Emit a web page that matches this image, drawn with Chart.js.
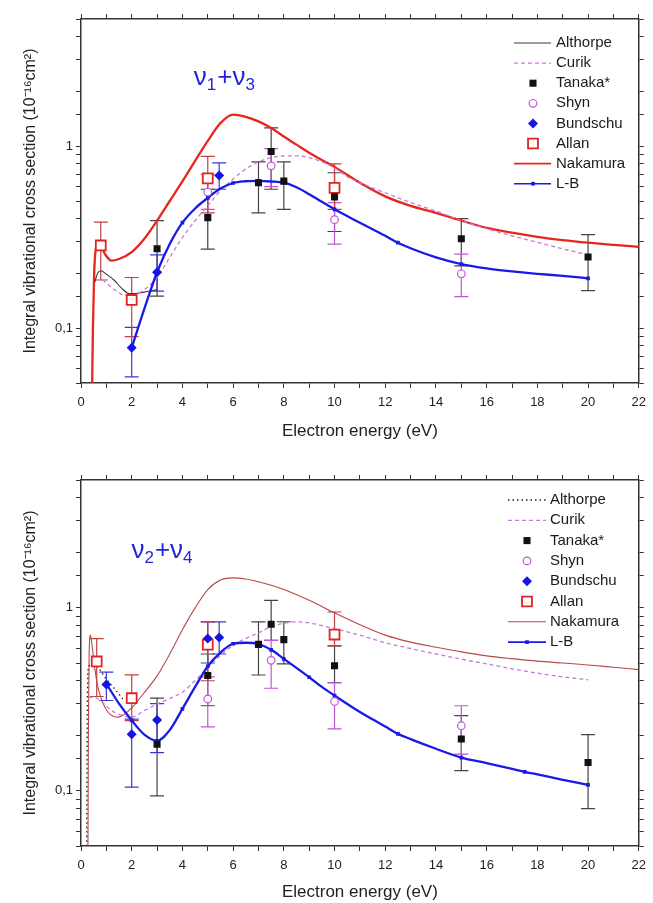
<!DOCTYPE html>
<html>
<head>
<meta charset="utf-8">
<script src="https://cdn.jsdelivr.net/npm/chart.js@4/dist/chart.umd.min.js"></script>
<style>
  html, body { margin: 0; padding: 0; background: #fff; }
  #c1 { position: absolute; left: 0; top: 0; }
  #c2 { position: absolute; left: 0; top: 445px; }
</style>
</head>
<body>
<canvas id="c1" width="653" height="445"></canvas>
<canvas id="c2" width="653" height="458"></canvas>
<script>
// ---- panel 1 : v1+v3  ([energy eV, cross section]) ----
const althorpe1 = [[0.55,0.18],[0.65,0.2],[0.78,0.207],[1.0,0.198],[1.3,0.184],[1.6,0.166],[1.9,0.155],[2.3,0.156],[2.6,0.159],[3.0,0.163]];
const curik1 = [[0.85,0.185],[1.1,0.172],[1.4,0.16],[1.7,0.152],[2,0.151],[2.5,0.163],[3,0.19],[3.5,0.245],[4,0.315],[4.5,0.39],[5,0.47],[5.5,0.57],[6,0.66],[6.5,0.75],[7,0.82],[7.5,0.865],[8,0.885],[8.5,0.885],[9,0.865],[9.5,0.82],[10,0.76],[10.5,0.68],[11,0.63],[11.5,0.59],[12,0.555],[13,0.49],[14,0.44],[15,0.39],[16,0.352],[17,0.322],[18,0.296],[19,0.273],[20,0.253]];
const nakamura1 = [[0.42,0.03],[0.47,0.1],[0.52,0.2],[0.58,0.27],[0.68,0.292],[0.8,0.28],[0.95,0.255],[1.2,0.235],[1.5,0.24],[2,0.262],[2.5,0.31],[3,0.39],[3.5,0.5],[4,0.64],[4.5,0.83],[5,1.07],[5.5,1.34],[6,1.49],[6.5,1.45],[7,1.37],[7.5,1.26],[8,1.13],[8.5,1.02],[9,0.92],[9.5,0.84],[10,0.77],[11,0.63],[12,0.53],[13,0.47],[14,0.43],[15,0.39],[16,0.356],[17,0.335],[18,0.318],[19,0.305],[20,0.295],[21,0.287],[22,0.28]];
const lb1 = [[2,0.078],[2.5,0.128],[3,0.203],[3.5,0.29],[4,0.38],[4.5,0.455],[5,0.52],[5.5,0.585],[6,0.628],[6.5,0.642],[7,0.645],[7.5,0.64],[8,0.63],[8.5,0.595],[9,0.545],[9.5,0.495],[10,0.45],[11,0.38],[12,0.322],[12.5,0.295],[13,0.275],[14,0.245],[15,0.225],[16,0.213],[17,0.205],[18,0.199],[19,0.194],[20,0.188]];
const lbMarks1 = [2,3,4,5,6,7,8,10,12.5,15,20];
// [energy, value, low, high]
const tanaka1 = [[3,0.273,0.15,0.39],[5,0.405,0.272,0.58],[7,0.63,0.43,0.82],[7.5,0.935,0.58,1.26],[8,0.643,0.45,0.82],[10,0.527,0.34,0.715],[15,0.31,0.22,0.4],[20,0.246,0.161,0.327]];
const shyn1 = [[5,0.56,0.45,0.7],[7.5,0.78,0.6,0.97],[10,0.395,0.29,0.49],[15,0.199,0.149,0.255]];
const bundschu1 = [[2,0.078,0.054,0.101],[3,0.203,0.16,0.253],[5.45,0.69,0.58,0.81]];
const allan1 = [[0.78,0.285,0.184,0.383],[2,0.143,0.09,0.19],[5,0.666,0.43,0.88],[10,0.59,0.45,0.8]];

// ---- panel 2 : v2+v4 ----
const althorpe2 = [[0.22,0.03],[0.25,0.3],[0.3,0.48],[0.5,0.49],[0.74,0.46],[0.93,0.42],[1.15,0.385],[1.39,0.353],[1.65,0.318]];
const curik2 = [[0.3,0.325],[0.6,0.322],[0.9,0.3],[1.2,0.275],[1.5,0.262],[2,0.253],[2.5,0.275],[3,0.298],[3.5,0.32],[4,0.346],[4.5,0.4],[5,0.47],[5.5,0.55],[6,0.625],[6.5,0.68],[7,0.73],[7.5,0.79],[8,0.825],[8.5,0.838],[9,0.83],[9.5,0.8],[10,0.77],[11,0.71],[12,0.645],[13,0.6],[14,0.56],[15,0.525],[16,0.495],[17,0.465],[18,0.44],[19,0.42],[20,0.405]];
const nakamura2 = [[0.27,0.03],[0.29,0.2],[0.32,0.55],[0.37,0.71],[0.45,0.6],[0.55,0.46],[0.65,0.38],[0.75,0.335],[0.9,0.295],[1.06,0.27],[1.25,0.257],[1.46,0.253],[1.7,0.262],[2,0.284],[2.5,0.345],[3,0.425],[3.5,0.56],[4,0.76],[4.5,1.0],[5,1.26],[5.5,1.42],[6,1.46],[6.5,1.44],[7,1.39],[7.5,1.33],[8,1.26],[9,1.1],[10,0.94],[11,0.81],[12,0.71],[13,0.65],[14,0.61],[15,0.575],[16,0.547],[17,0.528],[18,0.512],[19,0.5],[20,0.488],[21,0.474],[22,0.46]];
const lb2 = [[1,0.385],[1.5,0.3],[2,0.243],[2.5,0.203],[3,0.188],[3.5,0.215],[4,0.281],[4.5,0.37],[5,0.48],[5.5,0.57],[6,0.637],[6.5,0.645],[7,0.635],[7.5,0.59],[8,0.527],[8.5,0.47],[9,0.418],[9.5,0.37],[10,0.332],[11,0.27],[12,0.225],[12.5,0.205],[13,0.192],[14,0.17],[15,0.152],[16,0.142],[17,0.132],[17.5,0.127],[18,0.123],[19,0.115],[20,0.108]];
const lbMarks2 = [1,2,3,4,5,6,7,7.5,8,9,10,12.5,15,17.5,20];
const tanaka2 = [[3,0.18,0.094,0.321],[5,0.427,0.292,0.56],[7,0.632,0.43,0.838],[7.5,0.814,0.665,1.1],[8,0.671,0.495,0.84],[10,0.483,0.39,0.62],[15,0.192,0.129,0.258],[20,0.143,0.08,0.203]];
const shyn2 = [[5,0.318,0.224,0.42],[7.5,0.517,0.364,0.665],[10,0.308,0.218,0.39],[15,0.227,0.159,0.292]];
const bundschu2 = [[1,0.381,0.312,0.446],[2,0.204,0.105,0.247],[3,0.244,0.162,0.3],[5,0.68,0.5,0.838],[5.45,0.69,0.56,0.838]];
const allan2 = [[0.62,0.51,0.328,0.68],[2,0.321,0.242,0.431],[5,0.63,0.4,0.838],[10,0.715,0.62,0.95]];

const legendOrder = ['Althorpe', 'Curik', 'Tanaka*', 'Shyn', 'Bundschu', 'Allan', 'Nakamura', 'L-B'];
const mode1 = [['ν', 0], ['1', 1], ['+', 0], ['ν', 0], ['3', 1]];
const mode2 = [['ν', 0], ['2', 1], ['+', 0], ['ν', 0], ['4', 1]];
const xTitle = 'Electron energy (eV)';
const yTitle = 'Integral vibrational cross section (10⁻¹⁶cm²)';

const FONT = '"Liberation Sans", Arial, sans-serif';
Chart.defaults.font.family = FONT;

const toPoints = arr => arr.map(p => ({ x: p[0], y: p[1] }));

function lineSet(label, arr, color, width, dash) {
  return {
    label, data: toPoints(arr), showLine: true, pointRadius: 0,
    borderColor: color, borderWidth: width, borderDash: dash || [],
    cubicInterpolationMode: 'monotone', fill: false
  };
}

function markSet(label, arr, style, radius, fill, stroke, bw, errColor) {
  return {
    label, data: toPoints(arr), errors: arr, errorColor: errColor, showLine: false,
    pointStyle: style, pointRadius: radius,
    pointBackgroundColor: fill, pointBorderColor: stroke, pointBorderWidth: bw,
    backgroundColor: fill, borderColor: stroke
  };
}

// vertical error bars with caps, drawn under the markers
const errorBars = {
  id: 'errorBars',
  beforeDatasetsDraw(chart) {
    const { ctx, chartArea, scales: { x, y } } = chart;
    ctx.save();
    ctx.beginPath();
    ctx.rect(chartArea.left, chartArea.top, chartArea.right - chartArea.left, chartArea.bottom - chartArea.top);
    ctx.clip();
    chart.data.datasets.forEach(ds => {
      if (!ds.errors) return;
      ctx.strokeStyle = ds.errorColor;
      ctx.lineWidth = 1.2;
      ds.errors.forEach(e => {
        const px = x.getPixelForValue(e[0]);
        const lo = y.getPixelForValue(e[2]);
        const hi = y.getPixelForValue(e[3]);
        ctx.beginPath();
        ctx.moveTo(px, lo); ctx.lineTo(px, hi);
        ctx.moveTo(px - 7, lo); ctx.lineTo(px + 7, lo);
        ctx.moveTo(px - 7, hi); ctx.lineTo(px + 7, hi);
        ctx.stroke();
      });
    });
    ctx.restore();
  }
};

// legend placed inside the plot, upper right
const insideLegend = {
  id: 'insideLegend',
  afterDatasetsDraw(chart, args, o) {
    const ctx = chart.ctx;
    ctx.save();
    ctx.font = '15px ' + FONT;
    ctx.textBaseline = 'middle';
    legendOrder.forEach((label, i) => {
      const ds = chart.data.datasets.find(d => d.label === label);
      const cy = o.y0 + i * o.step;
      if (ds.showLine) {
        ctx.strokeStyle = ds.borderColor;
        ctx.lineWidth = Math.min(ds.borderWidth, 1.6);
        ctx.setLineDash(ds.borderDash || []);
        ctx.beginPath();
        ctx.moveTo(o.lineStart, cy); ctx.lineTo(o.lineEnd, cy);
        ctx.stroke();
        ctx.setLineDash([]);
      }
      const r = Array.isArray(ds.pointRadius) ? Math.max(...ds.pointRadius) : ds.pointRadius;
      if (r > 0) {
        ctx.fillStyle = ds.pointBackgroundColor || ds.borderColor;
        ctx.strokeStyle = ds.pointBorderColor || ds.borderColor;
        ctx.lineWidth = ds.pointBorderWidth || 0;
        Chart.helpers.drawPoint(ctx, { pointStyle: ds.pointStyle, radius: r, rotation: 0, borderWidth: ds.pointBorderWidth || 0 }, o.markX, cy);
      }
      ctx.fillStyle = '#1a1a1a';
      ctx.fillText(label, o.textX, cy);
    });
    ctx.restore();
  }
};

// "v1+v3" style label with subscripts, anchored in data coordinates
const modeLabel = {
  id: 'modeLabel',
  afterDatasetsDraw(chart, args, o) {
    const { ctx, scales: { x, y } } = chart;
    let px = x.getPixelForValue(o.at[0]);
    const base = y.getPixelForValue(o.at[1]);
    ctx.save();
    ctx.fillStyle = '#2424d8';
    ctx.textBaseline = 'alphabetic';
    o.parts.forEach(([t, sub]) => {
      ctx.font = (sub ? '17px ' : '26px ') + FONT;
      ctx.fillText(t, px, sub ? base + 5 : base);
      px += ctx.measureText(t).width + (sub ? 1 : 0);
    });
    ctx.restore();
  }
};

function buildChart(id, d) {
  const axisColor = '#333';
  const datasets = [
    markSet('Tanaka*', d.tanaka, 'rect', 5, '#111', '#111', 0, '#444'),
    markSet('Bundschu', d.bundschu, 'rectRot', 5, '#1414e6', '#1414e6', 0, '#3a3ad0'),
    markSet('Shyn', d.shyn, 'circle', 3.8, '#ffffff', '#c056d4', 1.2, '#c056d4'),
    markSet('Allan', d.allan, 'rect', 7, '#ffffff', '#e42222', 1.8, '#c24040'),
    Object.assign(lineSet('L-B', d.lb, '#1a1ae8', 2.3), {
      pointStyle: 'rect',
      pointRadius: d.lb.map(p => d.lbMarks.includes(p[0]) ? 2.6 : 0),
      pointBackgroundColor: '#1a1ae8', pointBorderColor: '#1a1ae8', pointBorderWidth: 0
    }),
    lineSet('Curik', d.curik, '#c77ad8', 1.3, [4, 3]),
    lineSet('Althorpe', d.althorpe, d.althorpeColor, d.althorpeWidth, d.althorpeDash),
    lineSet('Nakamura', d.nakamura, d.nakColor, d.nakWidth)
  ];

  return new Chart(document.getElementById(id), {
    type: 'scatter',
    data: { datasets },
    plugins: [errorBars, insideLegend, modeLabel],
    options: {
      responsive: false,
      animation: false,
      events: [],
      layout: { padding: { top: d.padTop, right: 3, left: 0, bottom: 0 } },
      plugins: {
        legend: { display: false },
        tooltip: { enabled: false },
        insideLegend: d.legend,
        modeLabel: { at: d.labelAt, parts: d.mode }
      },
      scales: {
        x: {
          type: 'linear', position: 'bottom', min: 0, max: 22,
          ticks: {
            stepSize: 1, autoSkip: false, maxRotation: 0, padding: 7,
            color: '#222', font: { size: 13 },
            callback: v => (v % 2 === 0 ? String(v) : '')
          },
          grid: { drawOnChartArea: false, tickLength: 5, color: axisColor },
          border: { color: axisColor, width: 1.5 },
          title: { display: true, text: xTitle, color: '#222', font: { size: 17 }, padding: { top: 0, bottom: d.xTitlePad } },
          afterFit: s => { s.height = d.xAxisH; }
        },
        x2: {
          type: 'linear', position: 'top', min: 0, max: 22,
          ticks: { stepSize: 1, display: false, autoSkip: false },
          grid: { drawOnChartArea: false, tickLength: 5, color: axisColor },
          border: { color: axisColor, width: 1.5 },
          afterFit: s => { s.height = 5; }
        },
        y: {
          type: 'logarithmic', position: 'left', min: 0.05, max: 5,
          ticks: {
            autoSkip: false, padding: 3, color: '#222', font: { size: 13 },
            callback: v => (Math.abs(v - 1) < 1e-9 ? '1' : Math.abs(v - 0.1) < 1e-9 ? '0,1' : '')
          },
          grid: { drawOnChartArea: false, tickLength: 5, color: axisColor },
          border: { color: axisColor, width: 1.5 },
          title: { display: true, text: yTitle, color: '#222', font: { size: 16 }, padding: { top: 21, bottom: 0 } },
          afterFit: s => { s.width = 81; }
        },
        y2: {
          type: 'logarithmic', position: 'right', min: 0.05, max: 5,
          ticks: { display: false, autoSkip: false },
          grid: { drawOnChartArea: false, tickLength: 5, color: axisColor },
          border: { color: axisColor, width: 1.5 },
          afterFit: s => { s.width = 5; }
        }
      }
    }
  });
}

buildChart('c1', {
  althorpe: althorpe1, curik: curik1, nakamura: nakamura1, lb: lb1, lbMarks: lbMarks1,
  tanaka: tanaka1, shyn: shyn1, bundschu: bundschu1, allan: allan1,
  althorpeColor: '#3a3a3a', althorpeWidth: 1.1, althorpeDash: [],
  nakColor: '#e8261e', nakWidth: 2.3,
  padTop: 14, xAxisH: 62, xTitlePad: 3,
  labelAt: [4.45, 2.17], mode: mode1,
  legend: { y0: 43, step: 20.1, lineStart: 514, lineEnd: 551, markX: 533, textX: 556 }
});

buildChart('c2', {
  althorpe: althorpe2, curik: curik2, nakamura: nakamura2, lb: lb2, lbMarks: lbMarks2,
  tanaka: tanaka2, shyn: shyn2, bundschu: bundschu2, allan: allan2,
  althorpeColor: '#222', althorpeWidth: 1.3, althorpeDash: [1.5, 3],
  nakColor: '#b8484a', nakWidth: 1.1,
  padTop: 30, xAxisH: 57, xTitlePad: 0,
  labelAt: [1.99, 1.87], mode: mode2,
  legend: { y0: 55, step: 20.3, lineStart: 508, lineEnd: 546, markX: 527, textX: 550 }
});
</script>
</body>
</html>
